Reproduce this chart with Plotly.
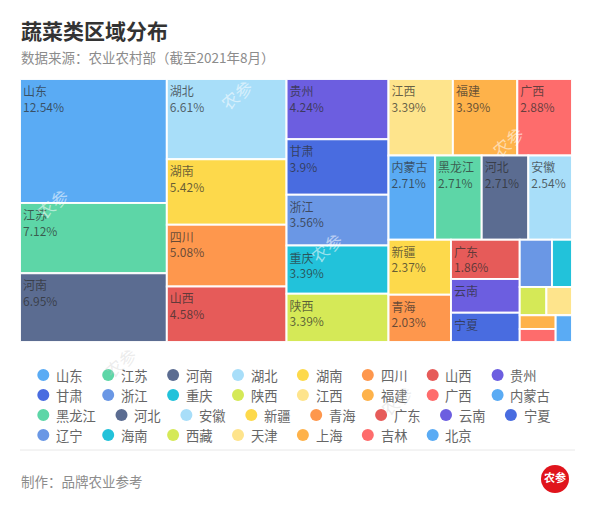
import plotly.graph_objects as go

provinces = ["山东", "江苏", "河南", "湖北", "湖南", "四川", "山西", "贵州",
             "甘肃", "浙江", "重庆", "陕西", "江西", "福建", "广西", "内蒙古",
             "黑龙江", "河北", "安徽", "新疆", "青海", "广东", "云南", "宁夏",
             "辽宁", "海南", "西藏", "天津", "上海", "吉林", "北京"]
shares = [12.54, 7.12, 6.95, 6.61, 5.42, 5.08, 4.58, 4.24,
          3.90, 3.56, 3.39, 3.39, 3.39, 3.39, 2.88, 2.71,
          2.71, 2.71, 2.54, 2.37, 2.03, 1.86, 1.60, 1.38,
          1.05, 0.65, 0.52, 0.50, 0.34, 0.32, 0.30]
palette = ["#5AABF4", "#5DD6A7", "#5B6C91", "#A8DEF9", "#FDD94B",
           "#FE974D", "#E65B59", "#6C5EE0", "#496CE0", "#6A97E5",
           "#22C2DA", "#D5E957", "#FEE48C", "#FEB24A", "#FE6C6C"]

W, H = 594, 506
FONT = "Noto Sans CJK SC"


def px(x):
    return x / W


def py(y):
    return 1 - y / H


colors = [palette[i % len(palette)] for i in range(len(provinces))]
pct_text = [("%g" % v) + "%" for v in shares]
# cells too short for two lines only show their name (as in the original)
templates = ["%{label}" if 1.2 < v < 1.7 else "%{label}<br>%{text}" for v in shares]

fig = go.Figure()
fig.add_trace(go.Treemap(
    labels=provinces,
    parents=[""] * len(provinces),
    values=shares,
    text=pct_text,
    texttemplate=templates,
    textposition="top left",
    textfont=dict(family=FONT, size=12, color="rgba(45,45,45,0.72)"),
    marker=dict(colors=colors, line=dict(width=2, color="rgba(255,255,255,0.95)"),
                pad=dict(t=0, l=0, r=0, b=0)),
    tiling=dict(packing="squarify", squarifyratio=1.618, pad=0),
    pathbar=dict(visible=False),
    sort=True,
    hoverinfo="label+text",
    domain=dict(x=[px(20), px(572)], y=[py(342), py(79)]),
))

annotations = [
    dict(text="<b>蔬菜类区域分布</b>", x=px(19), y=py(30), xanchor="left", yanchor="middle",
         font=dict(family=FONT, size=21, color="#333")),
    dict(text="数据来源：农业农村部（截至2021年8月）", x=px(19), y=py(57),
         xanchor="left", yanchor="middle", font=dict(family=FONT, size=13.5, color="#8c8c8c")),
    dict(text="制作：品牌农业参考", x=px(19), y=py(481),
         xanchor="left", yanchor="middle", font=dict(family=FONT, size=13.5, color="#8c8c8c")),
    dict(text="<b>农参</b>", x=px(555), y=py(477), xanchor="center", yanchor="middle",
         font=dict(family=FONT, size=11, color="white")),
]
shapes = [
    dict(type="line", x0=px(20), x1=px(575), y0=py(450), y1=py(450),
         line=dict(color="#e8e8e8", width=1)),
    dict(type="circle", x0=px(541), x1=px(569), y0=py(493), y1=py(465),
         fillcolor="#E0141C", line=dict(width=0)),
]

# manual legend (flow layout like the original)
row_y = [375, 395, 415, 435]
lx0, sym_gap, char_w, item_gap, r = 43.3, 11.7, 13.3, 26.6, 6
lx, row = lx0, 0
for name, col in zip(provinces, colors):
    tw = char_w * len(name)
    if lx + sym_gap + tw > 560:
        row += 1
        lx = lx0
    y = row_y[row]
    shapes.append(dict(type="circle", x0=px(lx - r), x1=px(lx + r), y0=py(y + r), y1=py(y - r),
                       fillcolor=col, line=dict(width=0)))
    annotations.append(dict(text=name, x=px(lx + sym_gap - 1), y=py(y), xanchor="left",
                            yanchor="middle", font=dict(family=FONT, size=13.3, color="#666")))
    lx += sym_gap + tw + item_gap

# faint watermarks
for wx, wy, wc in [(236, 94, "rgba(255,255,255,0.55)"), (52, 203, "rgba(255,255,255,0.55)"),
                   (508, 142, "rgba(255,255,255,0.55)"), (326, 247, "rgba(255,255,255,0.55)"),
                   (120, 362, "rgba(200,200,200,0.35)"), (396, 400, "rgba(200,200,200,0.35)")]:
    annotations.append(dict(text="农参", x=px(wx), y=py(wy), xanchor="center", yanchor="middle",
                            textangle=-40, font=dict(family=FONT, size=17, color=wc)))

for a in annotations:
    a.update(xref="paper", yref="paper", showarrow=False)
for s in shapes:
    s.update(xref="paper", yref="paper")

fig.update_layout(
    width=W, height=H,
    margin=dict(l=0, r=0, t=0, b=0),
    paper_bgcolor="white", plot_bgcolor="white",
    font=dict(family=FONT, color="#555"),
    showlegend=False,
    uniformtext=dict(minsize=12, mode="hide"),
    annotations=annotations,
    shapes=shapes,
)

fig.write_html("out.html")
